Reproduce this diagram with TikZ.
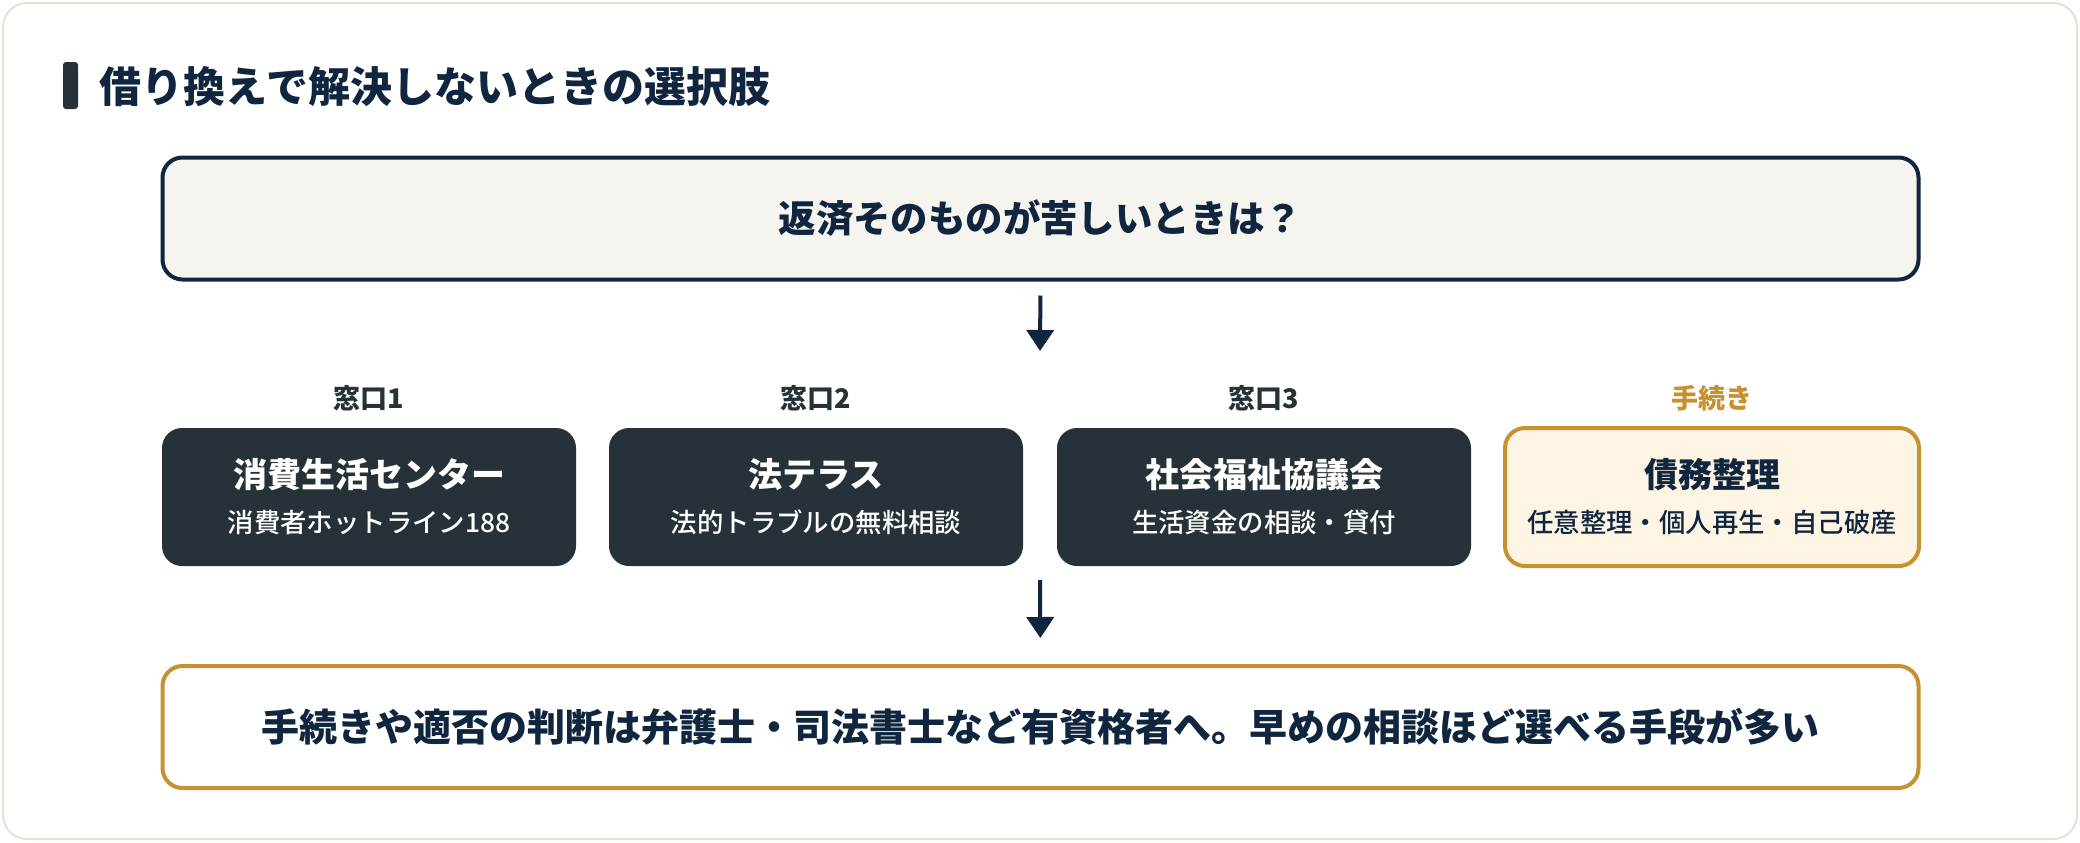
\documentclass[tikz,border=0pt]{standalone}
\usepackage{fontspec}
\setmainfont{Noto Sans CJK JP}
\newfontfamily\medfont{Noto Sans CJK JP Medium}
\usetikzlibrary{arrows.meta}
\definecolor{navy}{HTML}{10263F}
\definecolor{slate}{HTML}{263238}
\definecolor{gold}{HTML}{C8912F}
\definecolor{cream}{HTML}{FDF4E3}
\definecolor{paper}{HTML}{F5F4EF}
\definecolor{cardline}{HTML}{E4E1D6}
\begin{document}
\begin{tikzpicture}[x=0.5pt,y=-0.5pt,
    wide/.style={draw, line width=2pt, rounded corners=10pt, minimum width=878pt,
      minimum height=61pt, text=navy, font=\bfseries\fontsize{18.7pt}{22pt}\selectfont},
    madoguchi/.style={fill=slate, rounded corners=10pt, minimum width=207pt,
      minimum height=69pt, text=white, align=center,
      font=\medfont\fontsize{13.2pt}{22.5pt}\selectfont},
    tetsuzuki/.style={madoguchi, fill=cream, draw=gold, line width=2pt, text=navy},
    lab/.style={text=slate, font=\bfseries\fontsize{13.5pt}{16pt}\selectfont},
    arr/.style={navy, line width=2pt, -{Triangle[width=13.5pt,length=10.5pt]}}]
  \useasboundingbox (0,0) rectangle (2080,842);
  \fill[white] (0,0) rectangle (2080,842);
  \draw[cardline, fill=white, line width=1pt, rounded corners=12pt] (3,3) rectangle (2077,839);
  \fill[slate, rounded corners=1.5pt] (63,62) rectangle (78,109);
  \node[anchor=west, inner sep=0pt, text=navy, font=\bfseries\fontsize{21pt}{24pt}\selectfont]
    (title) at (99,87) {借り換えで解決しないときの選択肢};
  \node[wide, draw=navy, fill=paper] (q) at (1040.5,218.5) {返済そのものが苦しいときは？};
  \coordinate (a1) at (1040,351);
  \node[lab] (l1) at (369,398) {窓口1};
  \node[lab] (l2) at (816,398) {窓口2};
  \node[lab] (l3) at (1264,398) {窓口3};
  \node[lab, text=gold] (l4) at (1712,398) {手続き};
  \node[madoguchi] (w1) at (369,497)
    {{\bfseries\fontsize{17pt}{22.5pt}\selectfont 消費生活センター}\\消費者ホットライン188};
  \node[madoguchi] (w2) at (816,497)
    {{\bfseries\fontsize{17pt}{22.5pt}\selectfont 法テラス}\\法的トラブルの無料相談};
  \node[madoguchi] (w3) at (1264,497)
    {{\bfseries\fontsize{17pt}{22.5pt}\selectfont 社会福祉協議会}\\生活資金の相談・貸付};
  \node[tetsuzuki] (p) at (1712,497)
    {{\bfseries\fontsize{17pt}{22.5pt}\selectfont 債務整理}\\任意整理・個人再生・自己破産};
  \coordinate (a2) at (1040,580);
  \node[wide, draw=gold, fill=white, font=\bfseries\fontsize{19pt}{22pt}\selectfont]
    (note) at (1040.5,727) {手続きや適否の判断は弁護士・司法書士など有資格者へ。早めの相談ほど選べる手段が多い};
  \begin{scope}[arr]
    \draw[shorten <=7pt] (q.south) to (a1);
    \draw[shorten >=13pt] (a2) to (note.north);
  \end{scope}
\end{tikzpicture}
\end{document}
